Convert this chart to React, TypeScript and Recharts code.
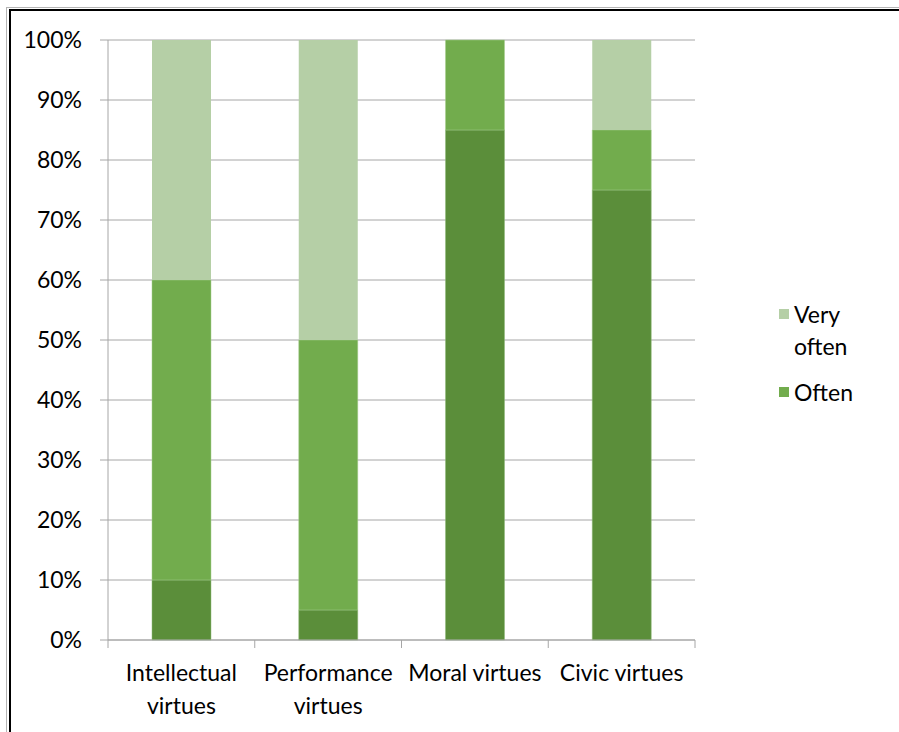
import React from 'react';
import { BarChart, Bar, XAxis, YAxis, CartesianGrid, Legend } from 'recharts';

const categories = ['Intellectual virtues', 'Performance virtues', 'Moral virtues', 'Civic virtues'];
const categoryLines = [['Intellectual', 'virtues'], ['Performance', 'virtues'], ['Moral virtues'], ['Civic virtues']];
const baseValues = [10, 5, 85, 75];
const oftenValues = [50, 45, 15, 10];
const veryOftenValues = [40, 50, 0, 15];
const yTicks = [0, 10, 20, 30, 40, 50, 60, 70, 80, 90, 100];
const boundaryTicks = [0, 1, 2, 3, 4];

const data = categories.map((c, i) => ({
  name: c,
  idx: i,
  base: baseValues[i],
  often: oftenValues[i],
  veryOften: veryOftenValues[i],
}));

const FONT = 'Lato, "Open Sans", sans-serif';
const DARK = '#5b8e3a';
const MID = '#72ac4d';
const LIGHT = '#b5cfa6';
const FS = 23;

const CatTick = (props: any) => {
  const { x, y, payload } = props;
  const i = categories.indexOf(payload.value);
  const lines = categoryLines[i] || [payload.value];
  return (
    <g>
      {lines.map((l, k) => (
        <text key={k} x={x} y={y + 33 * k} textAnchor="middle" dominantBaseline="middle" fontFamily={FONT} fontSize={FS} fill="#000">
          {l}
        </text>
      ))}
    </g>
  );
};

const LegendContent = () => (
  <div style={{ fontFamily: FONT, fontSize: FS, color: '#000', width: 100 }}>
    <div style={{ display: 'flex', alignItems: 'flex-start' }}>
      <span style={{ display: 'inline-block', width: 10, height: 10, background: LIGHT, marginTop: 11, marginRight: 5 }} />
      <span style={{ lineHeight: '32px' }}>Very<br />often</span>
    </div>
    <div style={{ display: 'flex', alignItems: 'flex-start', marginTop: 14 }}>
      <span style={{ display: 'inline-block', width: 10, height: 10, background: MID, marginTop: 11, marginRight: 5 }} />
      <span style={{ lineHeight: '32px' }}>Often</span>
    </div>
  </div>
);

export default function App() {
  return (
    <div style={{ position: 'absolute', left: 0, top: 0, width: 899, height: 732, background: '#fff', overflow: 'hidden' }}>
      <div style={{ position: 'absolute', left: 6, top: 7, width: 1000, height: 1000, borderLeft: '1px solid #b4b4b4', borderTop: '1px solid #b4b4b4' }} />
      <div style={{ position: 'absolute', left: 9, top: 9, width: 1000, height: 1000, borderLeft: '2px solid #000', borderTop: '2px solid #000' }} />
      <div style={{ position: 'absolute', left: 0, top: 0 }}>
        <BarChart width={899} height={732} data={data} margin={{ top: 40, right: 104, bottom: 2, left: 8 }} barSize={59}>
          <CartesianGrid xAxisId="b" vertical={false} stroke="#a6a6a6" strokeWidth={1} horizontal={true} />
          <XAxis xAxisId="b" dataKey="name" height={89} axisLine={false} tickLine={false} tick={<CatTick />} tickMargin={28} interval={0} />
          <XAxis xAxisId="a" type="number" dataKey="idx" domain={[0, 4]} ticks={boundaryTicks} tickFormatter={() => ''} height={1} tickSize={8} axisLine={{ stroke: '#a6a6a6' }} tickLine={{ stroke: '#a6a6a6' }} allowDataOverflow />
          <YAxis domain={[0, 100]} ticks={yTicks} tickFormatter={(v) => `${v}%`} width={100} tickSize={8} tickMargin={18} axisLine={{ stroke: '#a6a6a6' }} tickLine={{ stroke: '#a6a6a6' }} tick={{ fontFamily: FONT, fontSize: FS, fill: '#000' }} />
          <Legend layout="vertical" align="right" verticalAlign="middle" width={100} wrapperStyle={{ left: 779, top: 298, right: 'auto' }} content={<LegendContent />} />
          <Bar xAxisId="b" dataKey="base" stackId="a" fill={DARK} stroke="#8fb87a" strokeWidth={0.5} isAnimationActive={false} />
          <Bar xAxisId="b" dataKey="often" name="Often" stackId="a" fill={MID} stroke="#a6cc8f" strokeWidth={0.5} isAnimationActive={false} />
          <Bar xAxisId="b" dataKey="veryOften" name="Very often" stackId="a" fill={LIGHT} isAnimationActive={false} />
        </BarChart>
      </div>
    </div>
  );
}
